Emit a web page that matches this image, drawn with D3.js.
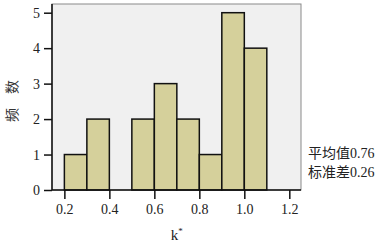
<!DOCTYPE html>
<html><head><meta charset="utf-8">
<script src="https://cdn.jsdelivr.net/npm/d3@7"></script>
<style>body{margin:0;background:#fff}svg{display:block}svg text{font-family:'Liberation Serif','Noto Sans CJK SC',serif}</style>
</head><body>
<svg id="c" width="383" height="245"></svg>
<script>
const binStarts = [0.2,0.3,0.4,0.5,0.6,0.7,0.8,0.9,1.0];
const counts = [1,2,0,2,3,2,1,5,4];
const binWidth = 0.1;
const xTicks = [0.2,0.4,0.6,0.8,1.0,1.2];
const yTicks = [0,1,2,3,4,5];
const xLabel = "k*";
const yLabel = "频　数";
const statLines = ["平均值0.76","标准差0.26"];

const svg = d3.select("#c");
const L=52,R=301,T=4,B=190;
const x = d3.scaleLinear().domain([0.145,1.252]).range([L,R]);
const y = d3.scaleLinear().domain([0,5]).range([B,12.7]);

svg.append("rect").attr("x",L).attr("y",T).attr("width",R-L).attr("height",B-T)
  .attr("fill","#f0f0f0").attr("stroke","#8a8a8a").attr("stroke-width",1);

svg.append("g").selectAll("rect").data(binStarts.map((s,i)=>({s,c:counts[i]})).filter(d=>d.c>0))
  .join("rect")
  .attr("x",d=>x(d.s)).attr("width",d=>x(d.s+binWidth)-x(d.s))
  .attr("y",d=>y(d.c)).attr("height",d=>y(0)-y(d.c))
  .attr("fill","#d5d09b").attr("stroke","#111").attr("stroke-width",1.5);

const xa = svg.append("g").attr("transform",`translate(0,${B})`)
  .call(d3.axisBottom(x).tickValues(xTicks).tickFormat(d3.format(".1f")).tickSize(9).tickPadding(5));
const ya = svg.append("g").attr("transform",`translate(${L},0)`)
  .call(d3.axisLeft(y).tickValues(yTicks).tickFormat(d3.format("d")).tickSize(8).tickPadding(4));
[xa,ya].forEach(a=>{
  a.attr("font-family",null).attr("font-size",null);
  a.select(".domain").attr("stroke","#111").attr("stroke-width",1.5);
  a.selectAll(".tick line").attr("stroke","#111").attr("stroke-width",1.5);
  a.selectAll("text").style("font-size","14px").attr("fill","#222");
});
xa.select(".domain").attr("d",`M${L},0H${R}`);
ya.select(".domain").attr("d",`M0,${T}V${B}`);

const kl = svg.append("text").attr("x",(x(0.6)+x(0.8))/2).attr("y",240)
  .attr("text-anchor","middle").style("font-size","15px").attr("fill","#222");
kl.append("tspan").text(xLabel[0]);
kl.append("tspan").style("font-size","9px").attr("dy",-6).text(xLabel[1]);

svg.append("text").attr("transform","translate(17,101) rotate(-90)")
  .attr("text-anchor","middle")
  .style("font-size","14px").attr("fill","#333").text(yLabel);

svg.append("g").selectAll("text").data(statLines).join("text")
  .attr("x",308).attr("y",(d,i)=>158+i*19)
  .style("font-size","14px").attr("fill","#222").text(d=>d);
</script>
</body></html>
